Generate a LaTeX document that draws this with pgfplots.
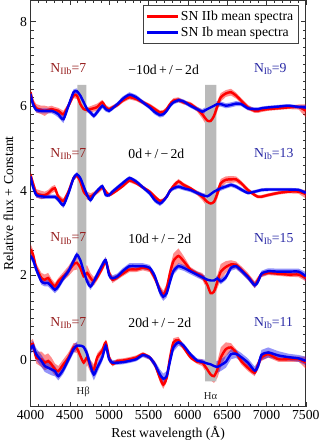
\documentclass[border=0pt]{standalone}
\usepackage{pgfplots}
\pgfplotsset{compat=1.18}
\usepackage{pgfplotstable}
\usepgfplotslibrary{fillbetween}
\usepackage{fontspec}
\setmainfont{Liberation Serif}

\definecolor{specred}{RGB}{255,0,0}
\definecolor{specblue}{RGB}{0,0,240}
\definecolor{labred}{RGB}{150,30,30}
\definecolor{labblue}{RGB}{40,40,165}

\newcommand{\lblfont}{\fontsize{13.5bp}{16bp}\selectfont}
\newcommand{\sub}[1]{\raisebox{-0.35ex}{\fontsize{9.5bp}{10bp}\selectfont #1}}

% columns: wavelength, IIb mean, IIb half-width, Ib mean, Ib half-width
\pgfplotstableread{
lam r re b be
4000 6.33 0.10 6.29 0.06
4030 6.09 0.08 6.05 0.06
4073 5.95 0.10 5.91 0.06
4138 5.91 0.10 5.89 0.06
4181 5.89 0.12 5.89 0.06
4224 5.91 0.08 5.89 0.06
4267 5.93 0.08 5.89 0.06
4310 5.91 0.07 5.86 0.07
4353 5.89 0.07 5.81 0.08
4418 5.81 0.08 5.69 0.09
4482 6.01 0.06 6.01 0.07
4547 6.25 0.06 6.33 0.07
4590 6.25 0.08 6.35 0.07
4633 6.05 0.08 6.25 0.07
4676 5.93 0.08 6.09 0.07
4719 5.91 0.06 5.93 0.06
4762 5.93 0.07 5.85 0.06
4805 5.95 0.08 5.77 0.06
4848 5.98 0.08 5.86 0.06
4913 6.09 0.06 6.01 0.06
4956 5.97 0.06 5.93 0.06
4999 5.93 0.05 5.89 0.05
5042 5.97 0.05 5.95 0.05
5106 6.03 0.05 6.05 0.05
5171 6.13 0.05 6.17 0.06
5257 6.21 0.05 6.27 0.06
5343 6.17 0.05 6.21 0.06
5429 6.09 0.05 6.09 0.05
5515 6.01 0.05 5.97 0.05
5580 5.93 0.05 5.86 0.06
5645 5.85 0.05 5.79 0.06
5688 5.86 0.05 5.81 0.06
5731 5.93 0.05 5.89 0.05
5774 6.05 0.05 6.01 0.05
5817 6.13 0.06 6.09 0.05
5881 6.15 0.06 6.14 0.05
5946 6.09 0.05 6.11 0.05
6032 6.05 0.05 6.01 0.05
6118 5.93 0.06 5.93 0.05
6183 5.81 0.10 5.87 0.06
6247 5.66 0.14 5.93 0.07
6290 5.65 0.16 5.97 0.08
6333 5.77 0.15 6.01 0.08
6376 6.01 0.12 6.05 0.07
6419 6.21 0.10 6.05 0.06
6484 6.30 0.08 6.01 0.06
6549 6.33 0.08 6.03 0.06
6613 6.25 0.07 6.06 0.06
6678 6.13 0.06 6.05 0.05
6764 5.97 0.06 5.95 0.05
6850 5.89 0.05 5.93 0.04
6893 5.89 0.05 5.93 0.04
6936 5.91 0.05 5.95 0.04
7022 5.93 0.04 5.97 0.04
7151 5.95 0.04 5.99 0.04
7280 5.97 0.04 6.01 0.04
7410 5.98 0.06 5.98 0.04
7500 5.89 0.15 5.97 0.06
}\epochA

\pgfplotstableread{
lam r re b be
4000 4.38 0.08 4.34 0.06
4030 4.18 0.10 4.10 0.06
4073 3.94 0.10 3.90 0.06
4138 3.90 0.10 3.87 0.06
4181 3.90 0.08 3.86 0.05
4224 3.94 0.08 3.86 0.05
4267 4.02 0.08 3.86 0.05
4310 4.06 0.08 3.86 0.05
4353 3.86 0.06 3.79 0.06
4418 3.76 0.06 3.66 0.07
4482 3.98 0.05 3.94 0.06
4547 4.30 0.05 4.30 0.06
4590 4.36 0.05 4.39 0.06
4633 4.22 0.05 4.30 0.06
4676 3.98 0.08 4.10 0.06
4719 3.88 0.10 3.90 0.06
4762 3.86 0.08 3.78 0.06
4805 3.92 0.06 3.90 0.05
4848 3.98 0.06 4.00 0.05
4913 4.08 0.06 4.11 0.05
4956 3.98 0.05 3.90 0.05
4999 3.90 0.04 3.90 0.05
5042 3.94 0.04 3.98 0.05
5106 4.02 0.04 4.08 0.05
5171 4.11 0.04 4.18 0.05
5257 4.24 0.04 4.30 0.05
5343 4.18 0.04 4.22 0.05
5429 4.08 0.04 4.08 0.05
5515 3.98 0.04 3.94 0.05
5580 3.86 0.04 3.78 0.06
5645 3.76 0.04 3.70 0.06
5688 3.78 0.04 3.76 0.06
5731 3.86 0.04 3.86 0.05
5774 4.00 0.05 4.00 0.05
5817 4.11 0.06 4.06 0.05
5881 4.22 0.06 4.10 0.05
5946 4.14 0.05 4.06 0.05
6032 4.06 0.04 4.02 0.05
6118 3.95 0.05 3.95 0.05
6183 3.86 0.08 3.90 0.05
6247 3.74 0.12 3.87 0.05
6290 3.70 0.14 3.92 0.06
6333 3.74 0.14 3.98 0.06
6376 3.94 0.12 4.02 0.06
6419 4.18 0.10 4.06 0.06
6484 4.26 0.08 4.10 0.05
6549 4.27 0.08 4.14 0.05
6613 4.27 0.07 4.10 0.05
6678 4.18 0.06 4.03 0.05
6764 4.02 0.05 3.95 0.04
6850 3.90 0.04 3.98 0.04
6893 3.86 0.04 4.00 0.04
6936 3.86 0.04 4.02 0.04
7022 3.90 0.04 4.03 0.04
7151 3.95 0.04 4.03 0.04
7280 3.98 0.04 4.03 0.04
7410 3.98 0.05 4.02 0.04
7500 3.92 0.10 3.95 0.05
}\epochB

\pgfplotstableread{
lam r re b be
4000 2.62 0.12 2.46 0.08
4030 2.50 0.12 2.38 0.08
4073 2.18 0.10 2.14 0.08
4138 1.94 0.12 1.86 0.08
4181 1.90 0.12 1.82 0.08
4224 1.94 0.12 1.82 0.08
4267 1.82 0.10 1.74 0.08
4310 1.74 0.08 1.66 0.08
4353 1.86 0.08 1.74 0.08
4418 1.98 0.10 1.94 0.08
4482 2.10 0.12 2.10 0.08
4547 2.26 0.14 2.34 0.08
4590 2.30 0.16 2.49 0.08
4633 2.18 0.20 2.36 0.08
4676 1.98 0.22 2.10 0.08
4719 2.06 0.18 1.86 0.08
4762 1.94 0.12 1.74 0.08
4805 1.86 0.10 1.86 0.08
4848 1.96 0.08 2.02 0.08
4913 2.18 0.08 2.25 0.08
4956 2.34 0.08 2.36 0.08
4999 2.06 0.08 2.01 0.08
5042 1.90 0.08 1.93 0.07
5106 1.96 0.06 1.98 0.07
5171 2.04 0.06 2.10 0.07
5257 2.14 0.06 2.22 0.07
5343 2.14 0.06 2.22 0.07
5429 2.18 0.06 2.22 0.07
5515 2.14 0.06 2.18 0.07
5580 1.94 0.08 1.98 0.08
5645 1.66 0.10 1.62 0.10
5688 1.54 0.10 1.50 0.10
5731 1.70 0.10 1.58 0.10
5774 2.06 0.14 1.86 0.08
5817 2.34 0.18 2.10 0.08
5881 2.46 0.18 2.22 0.07
5946 2.34 0.12 2.18 0.07
6032 2.14 0.06 2.10 0.07
6118 2.04 0.06 2.02 0.07
6183 1.98 0.08 1.96 0.07
6247 1.78 0.12 1.90 0.07
6290 1.58 0.14 1.88 0.07
6333 1.62 0.14 1.88 0.07
6376 1.86 0.16 1.93 0.07
6419 2.09 0.18 1.86 0.07
6484 2.20 0.14 1.96 0.07
6549 2.26 0.10 2.18 0.07
6613 2.25 0.08 2.22 0.07
6678 2.14 0.08 2.12 0.07
6764 1.98 0.08 1.96 0.07
6850 1.78 0.08 1.77 0.07
6893 1.90 0.08 1.86 0.07
6936 2.02 0.06 2.04 0.07
7022 2.06 0.05 2.10 0.07
7151 2.04 0.05 2.09 0.07
7280 2.02 0.05 2.09 0.07
7410 2.02 0.06 2.09 0.07
7500 1.94 0.08 1.98 0.10
}\epochC

\pgfplotstableread{
lam r re b be
4000 0.34 0.12 0.26 0.12
4030 0.38 0.12 0.34 0.12
4073 0.06 0.14 0.14 0.14
4138 0.02 0.18 -0.02 0.14
4181 -0.06 0.18 -0.14 0.14
4224 -0.02 0.18 -0.18 0.14
4267 -0.10 0.16 -0.22 0.14
4310 -0.22 0.14 -0.26 0.12
4353 -0.26 0.12 -0.38 0.10
4418 -0.10 0.12 -0.22 0.10
4482 0.06 0.12 0.02 0.10
4547 0.30 0.10 0.26 0.10
4590 0.28 0.12 0.34 0.10
4633 0.10 0.18 0.34 0.10
4676 -0.06 0.22 0.31 0.10
4719 0.06 0.18 0.14 0.12
4762 -0.14 0.14 -0.14 0.14
4805 -0.22 0.12 -0.34 0.14
4848 0.06 0.10 -0.18 0.12
4913 0.23 0.08 0.07 0.10
4956 0.42 0.06 0.34 0.10
4999 0.06 0.06 0.02 0.08
5042 -0.09 0.06 -0.06 0.06
5106 -0.02 0.05 -0.06 0.05
5171 -0.01 0.05 -0.05 0.05
5257 0.02 0.05 -0.02 0.05
5343 0.06 0.05 0.02 0.05
5429 0.14 0.05 0.12 0.05
5515 0.06 0.05 0.06 0.05
5580 -0.10 0.06 -0.10 0.08
5645 -0.42 0.10 -0.34 0.12
5688 -0.58 0.10 -0.44 0.12
5731 -0.42 0.10 -0.38 0.12
5774 0.06 0.10 -0.02 0.10
5817 0.42 0.10 0.30 0.10
5881 0.47 0.08 0.42 0.08
5946 0.30 0.06 0.34 0.06
6032 0.07 0.05 0.14 0.05
6118 -0.04 0.05 -0.01 0.05
6183 -0.06 0.08 -0.04 0.06
6247 -0.22 0.12 -0.08 0.08
6290 -0.34 0.14 -0.10 0.10
6333 -0.38 0.16 -0.14 0.12
6376 -0.22 0.20 -0.16 0.14
6419 0.06 0.24 -0.12 0.14
6484 0.26 0.16 -0.04 0.14
6549 0.30 0.10 0.14 0.12
6613 0.18 0.08 0.15 0.10
6678 -0.02 0.08 0.07 0.10
6764 -0.18 0.08 -0.06 0.10
6850 -0.30 0.08 -0.25 0.10
6893 -0.10 0.08 -0.14 0.10
6936 0.06 0.08 0.12 0.12
7022 0.14 0.08 0.18 0.12
7151 0.02 0.06 0.11 0.10
7280 0.02 0.06 0.07 0.08
7410 0.02 0.06 0.04 0.08
7500 -0.06 0.14 -0.02 0.10
}\epochD

% one epoch: two shaded bands, then the two mean lines
\newcommand{\spec}[2]{%
  \addplot[draw=none, forget plot, name path=ru#2] table[x=lam, y expr=\thisrow{r}+\thisrow{re}] {#1};
  \addplot[draw=none, forget plot, name path=rl#2] table[x=lam, y expr=\thisrow{r}-\thisrow{re}] {#1};
  \addplot[draw=none, forget plot, name path=bu#2] table[x=lam, y expr=\thisrow{b}+\thisrow{be}] {#1};
  \addplot[draw=none, forget plot, name path=bl#2] table[x=lam, y expr=\thisrow{b}-\thisrow{be}] {#1};
  \addplot[fill=specred, fill opacity=0.45, draw=none, forget plot] fill between[of=ru#2 and rl#2];
  \addplot[fill=specblue, fill opacity=0.42, draw=none, forget plot] fill between[of=bu#2 and bl#2];
  \addplot[specred, line width=2.4pt, smooth, tension=0.4, forget plot] table[x=lam, y=r] {#1};
  \addplot[specblue, line width=2.4pt, smooth, tension=0.4, forget plot] table[x=lam, y=b] {#1};
}

\begin{document}
\begin{tikzpicture}
\begin{axis}[
  scale only axis, width=271bp, height=400bp,
  xmin=4000, xmax=7500, ymin=-1.1, ymax=8.5,
  xtick={4000,4500,...,7500}, ytick={0,2,4,6,8},
  minor x tick num=4, minor y tick num=9,
  tick align=inside, major tick length=5bp, minor tick length=3bp,
  tick style={black!80, line width=0.5bp},
  axis line style={black!80, line width=0.7bp},
  xlabel={Rest wavelength (Å)},
  ylabel={Relative flux + Constant},
  /pgf/number format/assume math mode=true,
  /pgf/number format/set thousands separator={},
  tick label style={font=\lblfont},
  label style={font=\lblfont},
  legend style={at={(0.974,0.9875)}, anchor=north east, draw=black!75,
    line width=0.6bp, font=\lblfont, inner sep=3bp, row sep=1bp},
  legend cell align=left,
  legend image code/.code={\draw[#1] (0bp,0bp) -- (30bp,0bp);},
]
\addlegendimage{specred, line width=2.4pt}
\addlegendentry{SN IIb mean spectra}
\addlegendimage{specblue, line width=2.4pt}
\addlegendentry{SN Ib mean spectra}

% H beta and H alpha windows
\addplot[fill=black!27, draw=none, forget plot] coordinates {(4594,-0.5)(4710,-0.5)(4710,6.5)(4594,6.5)(4594,-0.5)};
\addplot[fill=black!27, draw=none, forget plot] coordinates {(6221,-0.5)(6363,-0.5)(6363,6.5)(6221,6.5)(6221,-0.5)};

\spec{\epochA}{a}
\spec{\epochB}{b}
\spec{\epochC}{c}
\spec{\epochD}{d}

\node[labred, anchor=west, font=\lblfont] at (axis cs:4207,6.87) {N\sub{IIb}=7};
\node[anchor=west, font=\lblfont] at (axis cs:5200,6.87) {−10d\,+\,/\,−\,2d};
\node[labblue, anchor=west, font=\lblfont] at (axis cs:6796,6.87) {N\sub{Ib}=9};

\node[labred, anchor=west, font=\lblfont] at (axis cs:4207,4.87) {N\sub{IIb}=7};
\node[anchor=west, font=\lblfont] at (axis cs:5200,4.87) {0d\,+\,/\,−\,2d};
\node[labblue, anchor=west, font=\lblfont] at (axis cs:6796,4.87) {N\sub{Ib}=13};

\node[labred, anchor=west, font=\lblfont] at (axis cs:4207,2.87) {N\sub{IIb}=7};
\node[anchor=west, font=\lblfont] at (axis cs:5200,2.87) {10d\,+\,/\,−\,2d};
\node[labblue, anchor=west, font=\lblfont] at (axis cs:6796,2.87) {N\sub{Ib}=15};

\node[labred, anchor=west, font=\lblfont] at (axis cs:4207,0.87) {N\sub{IIb}=7};
\node[anchor=west, font=\lblfont] at (axis cs:5200,0.87) {20d\,+\,/\,−\,2d};
\node[labblue, anchor=west, font=\lblfont] at (axis cs:6796,0.87) {N\sub{Ib}=11};

\node[font=\fontsize{10.5bp}{12bp}\selectfont, black!85] at (axis cs:4670,-0.74) {Hβ};
\node[font=\fontsize{10.5bp}{12bp}\selectfont, black!85] at (axis cs:6290,-0.84) {Hα};
\end{axis}
\end{tikzpicture}
\end{document}
